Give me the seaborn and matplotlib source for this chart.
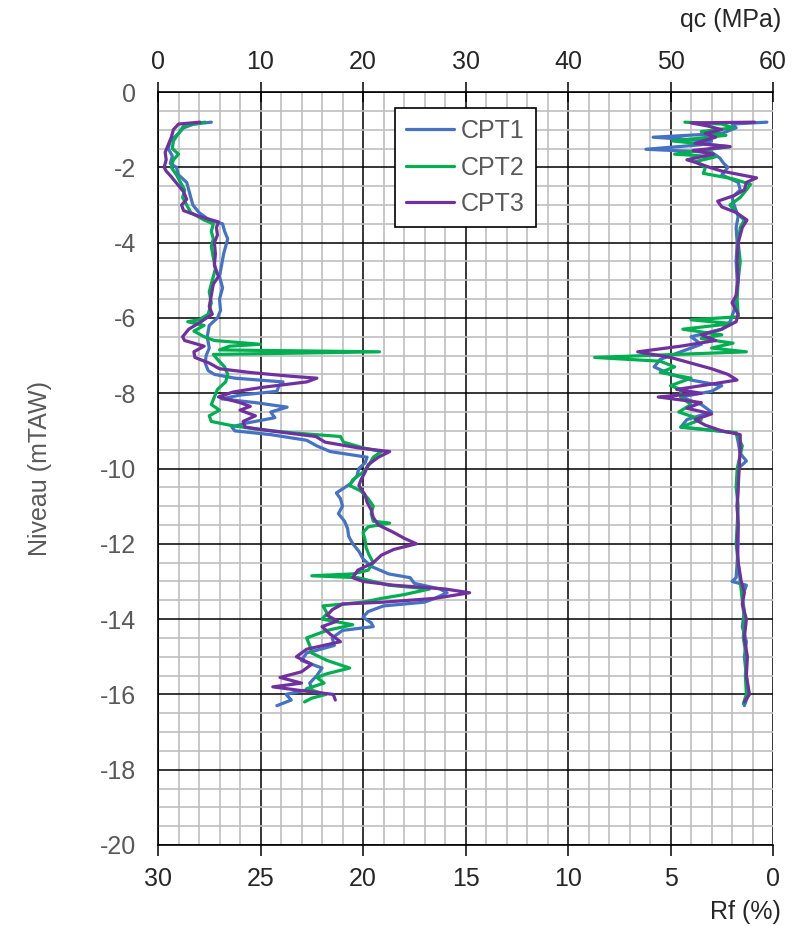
import numpy as np
import pandas as pd
import seaborn as sns
import matplotlib.pyplot as plt
from matplotlib.ticker import MultipleLocator

#====== data: qc (MPa) vs level (mTAW) ======
cpt1_qc_z = [-0.8, -0.85, -0.95, -1.1, -1.3, -1.5, -1.7, -1.9, -2.0, -2.2, -2.4, -2.6, -2.8, -3.0, -3.2, -3.4,
             -3.5, -3.7, -3.9, -4.1, -4.3, -4.6, -4.9, -5.2, -5.5, -5.8, -6.0, -6.2, -6.5, -6.8, -7.0, -7.2,
             -7.4, -7.5, -7.6, -7.7, -7.8, -7.95, -8.05, -8.15, -8.25, -8.37, -8.5, -8.65, -8.8, -8.9, -9.0,
             -9.1, -9.25, -9.4, -9.55, -9.7, -9.85, -10.0, -10.2, -10.4, -10.65, -10.8, -11.0, -11.2, -11.4,
             -11.6, -11.8, -12.0, -12.2, -12.4, -12.6, -12.8, -12.9, -13.05, -13.2, -13.3, -13.45, -13.55,
             -13.65, -13.8, -13.95, -14.1, -14.2, -14.3, -14.5, -14.7, -14.9, -15.1, -15.3, -15.5, -15.7,
             -15.85, -16.0, -16.15, -16.3]
cpt1_qc = [5.2, 3.5, 2.5, 2.0, 1.2, 1.0, 1.4, 1.2, 1.8, 2.0, 2.8, 3.0, 3.2, 3.4, 4.0, 5.0,
           6.3, 6.5, 6.8, 6.6, 6.4, 6.2, 6.0, 6.3, 6.0, 6.1, 5.8, 5.0, 4.8, 5.0, 4.7, 4.6,
           4.9, 5.5, 7.5, 12.2, 11.8, 11.6, 8.0, 6.2, 9.5, 12.6, 11.0, 11.4, 8.5, 7.2, 7.5,
           11.0, 14.5, 15.5, 16.8, 20.4, 20.2, 19.6, 19.4, 18.8, 17.4, 17.8, 18.0, 17.6, 18.2,
           18.5, 18.6, 19.0, 19.6, 20.0, 20.8, 22.5, 24.6, 25.0, 27.5, 28.2, 27.0, 26.0,
           22.0, 20.5, 20.0, 20.8, 21.0, 18.0, 17.0, 17.2, 14.5, 14.0, 16.0, 15.5, 14.8,
           15.0, 12.5, 13.0, 11.6]

cpt2_qc_z = [-0.8, -0.9, -1.1, -1.3, -1.5, -1.65, -1.8, -2.0, -2.2, -2.4, -2.6, -2.8, -3.0, -3.2, -3.4, -3.5,
             -3.7, -3.9, -4.1, -4.4, -4.7, -5.0, -5.3, -5.6, -5.9, -6.05, -6.1, -6.2, -6.35, -6.5, -6.6,
             -6.7, -6.75, -6.85, -6.9, -6.97, -7.1, -7.3, -7.5, -7.7, -7.9, -8.1, -8.3, -8.45, -8.6, -8.75,
             -8.85, -8.95, -9.05, -9.15, -9.3, -9.45, -9.55, -9.7, -9.9, -10.1, -10.3, -10.45, -10.6, -10.8,
             -11.0, -11.2, -11.4, -11.45, -11.55, -11.7, -11.9, -12.1, -12.3, -12.5, -12.7, -12.8, -12.85,
             -12.9, -13.0, -13.1, -13.2, -13.35, -13.45, -13.55, -13.65, -13.85, -14.0, -14.15, -14.3,
             -14.5, -14.7, -14.9, -15.1, -15.3, -15.45, -15.55, -15.7, -15.85, -16.0, -16.1, -16.2]
cpt2_qc = [4.6, 2.5, 2.0, 1.5, 1.4, 2.0, 1.5, 1.3, 1.8, 2.2, 2.6, 2.4, 2.8, 3.2, 4.5, 5.4,
           5.2, 5.4, 5.2, 5.4, 5.6, 5.3, 5.0, 5.2, 4.9, 4.0, 2.9, 4.5, 3.5, 4.5, 5.5,
           10.0, 7.0, 6.0, 21.6, 5.4, 5.8, 6.5, 6.8, 6.6, 5.8, 5.5, 5.2, 6.0, 5.0, 5.2,
           7.0, 9.5, 13.0, 17.8, 18.1, 20.0, 21.8, 21.0, 20.6, 20.0, 19.0, 18.7, 19.8, 20.5,
           21.0, 20.8, 21.0, 22.6, 20.5, 20.0, 20.2, 20.3, 20.6, 21.0, 20.5, 19.0, 15.0,
           19.5, 21.0, 22.5, 26.5, 24.0, 21.8, 20.0, 16.1, 16.5, 16.0, 19.0, 16.5,
           14.5, 14.8, 15.0, 16.5, 18.7, 16.5, 15.5, 16.2, 14.5, 16.4, 15.0, 14.3]

cpt3_qc_z = [-0.8, -0.85, -1.0, -1.2, -1.4, -1.6, -1.8, -2.0, -2.1, -2.25, -2.45, -2.65, -2.85, -3.0, -3.15,
             -3.3, -3.45, -3.6, -3.8, -4.0, -4.3, -4.6, -4.9, -5.1, -5.4, -5.7, -5.9, -6.1, -6.3, -6.5,
             -6.6, -6.75, -6.9, -7.05, -7.2, -7.35, -7.45, -7.55, -7.6, -7.7, -7.85, -7.97, -8.1, -8.25,
             -8.35, -8.45, -8.6, -8.75, -8.9, -9.0, -9.15, -9.3, -9.45, -9.55, -9.7, -9.9, -10.1, -10.3,
             -10.45, -10.7, -10.9, -11.1, -11.3, -11.5, -11.7, -11.85, -12.0, -12.15, -12.3, -12.5, -12.7,
             -12.9, -13.0, -13.1, -13.2, -13.3, -13.45, -13.55, -13.6, -13.75, -13.9, -14.05, -14.2, -14.4,
             -14.6, -14.8, -15.0, -15.2, -15.4, -15.55, -15.7, -15.8, -15.9, -16.0, -16.15]
cpt3_qc = [4.1, 2.0, 1.5, 1.3, 1.0, 0.7, 0.8, 0.6, 0.8, 1.3, 1.9, 2.5, 2.8, 2.3, 2.5,
           4.0, 5.9, 5.7, 5.8, 5.5, 5.6, 5.5, 5.9, 5.4, 5.2, 5.0, 5.3, 4.2, 3.0, 2.4,
           2.6, 4.5, 3.5, 3.6, 5.0, 6.0, 9.0, 13.0, 15.5, 14.5, 10.0, 7.3, 5.9, 8.0,
           9.0, 8.0, 9.5, 8.3, 8.5, 11.0, 15.4, 16.3, 19.5, 22.6, 21.5, 20.5, 20.2, 19.8,
           19.6, 20.2, 20.4, 20.8, 21.0, 21.5, 23.0, 24.0, 25.2, 23.0, 21.8, 21.0, 19.5,
           19.0, 20.0, 23.0, 28.0, 30.4, 27.0, 22.0, 18.0, 17.0, 16.5, 17.5, 16.0, 16.8,
           17.8, 14.5, 13.5, 15.0, 14.0, 11.9, 14.0, 11.2, 14.0, 17.1, 17.3]

#====== data: Rf (%) vs level (mTAW) ======
cpt1_rf_z = [-0.8, -0.85, -0.95, -1.1, -1.2, -1.3, -1.4, -1.52, -1.6, -1.75, -1.9, -2.0, -2.2, -2.4, -2.6,
             -2.8, -3.0, -3.3, -3.6, -4.0, -4.5, -5.0, -5.5, -5.8, -6.1, -6.3, -6.5, -6.7, -6.9, -7.1,
             -7.3, -7.5, -7.65, -7.8, -7.95, -8.1, -8.3, -8.5, -8.7, -8.9, -9.05, -9.3, -9.6, -9.8, -10.0,
             -10.5, -11.0, -11.5, -12.0, -12.5, -12.9, -13.0, -13.1, -13.4, -13.8, -14.2, -14.6, -15.0,
             -15.5, -16.0, -16.3]
cpt1_rf = [0.3, 2.0, 1.8, 2.5, 5.85, 3.0, 3.5, 6.2, 3.0, 2.6, 2.4, 2.2, 2.5, 1.7, 1.6,
           2.0, 1.9, 1.7, 1.8, 1.75, 1.8, 1.75, 1.8, 1.9, 2.1, 2.5, 4.0, 3.5, 4.5, 5.5,
           5.8, 5.0, 4.0, 2.5, 3.0, 4.5, 3.5, 3.0, 4.2, 4.5, 1.8, 1.7, 1.6, 1.3, 1.7,
           1.7, 1.75, 1.7, 1.7, 1.75, 1.8, 2.0, 1.3, 1.5, 1.4, 1.5, 1.3, 1.4,
           1.3, 1.2, 1.4]

cpt2_rf_z = [-0.8, -0.85, -0.95, -1.05, -1.15, -1.3, -1.45, -1.55, -1.65, -1.72, -1.85, -2.0, -2.16, -2.3,
             -2.45, -2.6, -2.8, -3.0, -3.2, -3.4, -3.6, -4.0, -4.5, -5.0, -5.5, -5.97, -6.05, -6.15, -6.3,
             -6.45, -6.55, -6.67, -6.8, -6.9, -7.05, -7.15, -7.3, -7.45, -7.6, -7.8, -7.9, -8.1, -8.3,
             -8.5, -8.7, -8.9, -9.05, -9.4, -10.0, -10.5, -11.0, -11.5, -12.0, -12.5, -13.0, -13.5,
             -14.0, -14.5, -15.0, -15.5, -16.0, -16.25]
cpt2_rf = [4.3, 2.5, 1.95, 3.5, 2.3, 4.9, 2.1, 3.5, 4.8, 2.8, 3.8, 3.3, 3.4, 2.0,
           1.1, 1.3, 1.6, 2.1, 1.8, 1.4, 1.6, 1.7, 1.6, 1.7, 1.75, 1.7, 4.0, 2.0, 4.4,
           2.5, 3.5, 1.95, 3.0, 1.3, 8.7, 5.5, 4.8, 5.5, 4.0, 5.0, 4.5, 4.5, 4.0,
           4.6, 3.5, 4.5, 1.8, 1.5, 1.75, 1.8, 1.7, 1.75, 1.8, 1.7, 1.6, 1.5,
           1.4, 1.45, 1.3, 1.35, 1.3, 1.45]

cpt3_rf_z = [-0.8, -0.82, -0.9, -1.0, -1.1, -1.2, -1.36, -1.45, -1.55, -1.65, -1.8, -1.9, -2.0, -2.1,
             -2.28, -2.4, -2.6, -2.75, -2.9, -3.05, -3.2, -3.4, -3.6, -4.0, -4.5, -5.0, -5.4, -5.6,
             -5.9, -6.1, -6.3, -6.45, -6.6, -6.75, -6.9, -7.05, -7.2, -7.35, -7.5, -7.65, -7.8, -7.9,
             -8.0, -8.1, -8.25, -8.4, -8.55, -8.7, -8.85, -9.0, -9.1, -9.4, -10.0, -10.5, -11.0, -11.5,
             -12.0, -12.5, -13.0, -13.3, -13.6, -14.0, -14.5, -15.0, -15.5, -16.0, -16.2]
cpt3_rf = [0.9, 4.0, 3.2, 2.5, 3.3, 2.8, 3.8, 2.1, 3.9, 2.9, 4.2, 3.6, 3.1, 2.5,
           0.8, 1.3, 1.4, 1.9, 2.7, 2.5, 1.8, 1.27, 1.5, 1.7, 1.75, 1.7, 1.8, 2.0,
           1.7, 1.8, 2.5, 3.5, 2.8, 4.5, 6.6, 5.0, 4.0, 3.0, 2.2, 1.76, 3.5, 4.7,
           3.5, 5.6, 3.5, 4.2, 3.0, 3.8, 3.3, 2.5, 1.6, 1.6, 1.65, 1.7, 1.75, 1.7,
           1.75, 1.7, 1.55, 1.4, 1.5, 1.3, 1.4, 1.25, 1.3, 1.15, 1.4]

names = ['CPT1', 'CPT2', 'CPT3']
colors = ['#4472C4', '#00B050', '#7030A0']

qc_series = [(cpt1_qc_z, cpt1_qc), (cpt2_qc_z, cpt2_qc), (cpt3_qc_z, cpt3_qc)]
rf_series = [(cpt1_rf_z, cpt1_rf), (cpt2_rf_z, cpt2_rf), (cpt3_rf_z, cpt3_rf)]

#====== style ======
sns.set_style('white')
plt.rcParams['font.family'] = ['Liberation Sans', 'DejaVu Sans']
plt.rcParams['axes.unicode_minus'] = False
txt = '#595959'
dark = '#262626'

fig = plt.figure(figsize=(8, 9.26), dpi=100)
ax = fig.add_axes([0.1975, 0.0875, 0.7688, 0.8131])  # Rf axis (bottom)

ax.set_xlim(30, 0)
ax.set_ylim(-20, 0)
ax.xaxis.set_major_locator(MultipleLocator(5))
ax.xaxis.set_minor_locator(MultipleLocator(1))
ax.yaxis.set_major_locator(MultipleLocator(2))
ax.yaxis.set_minor_locator(MultipleLocator(0.5))
ax.grid(which='minor', color='#BFBFBF', lw=1.2)
ax.grid(which='major', color='black', lw=1.1)
ax.set_axisbelow(True)
for s in ['top', 'right']:
    ax.spines[s].set_visible(False)
for s in ['left', 'bottom']:
    ax.spines[s].set_color('black')
    ax.spines[s].set_linewidth(1.2)
ax.tick_params(which='major', direction='out', length=8, width=1.1, color='black', labelsize=18)
ax.tick_params(axis='y', labelcolor=txt, pad=8)
ax.tick_params(axis='x', labelcolor=dark, pad=8)
ax.tick_params(which='minor', length=0)
ax.set_ylabel('Niveau (mTAW)', fontsize=18, color=txt, labelpad=34)
ax.set_xlabel('')

# Rf curves
for (z, rf), name, c in zip(rf_series, names, colors):
    sns.lineplot(x=rf, y=z, sort=False, estimator=None, color=c, lw=2.3, ax=ax, legend=False)

# qc axis on top
ax2 = ax.twiny()
ax2.set_xlim(0, 60)
ax2.set_ylim(-20, 0)
ax2.xaxis.set_major_locator(MultipleLocator(10))
for s in ['bottom', 'right', 'left']:
    ax2.spines[s].set_visible(False)
ax2.spines['top'].set_color('black')
ax2.spines['top'].set_linewidth(1.2)
ax2.tick_params(axis='x', which='major', direction='inout', length=14, width=1.1, color='black',
                labelsize=18, labelcolor=dark, pad=6)
ax2.grid(False)

for (z, qc), name, c in zip(qc_series, names, colors):
    sns.lineplot(x=qc, y=z, sort=False, estimator=None, color=c, lw=2.3, ax=ax2, label=name)

leg = ax2.legend(loc='upper left', bbox_to_anchor=(0.385, 0.979), frameon=True, fancybox=False,
                 edgecolor='black', framealpha=1, fontsize=18, handlelength=1.9,
                 labelspacing=0.5, borderpad=0.45, handletextpad=0.3, borderaxespad=0)
leg.get_frame().set_linewidth(1.2)
for t in leg.get_texts():
    t.set_color(txt)

fig.text(781 / 800, 1 - 20 / 926, 'qc (MPa)', fontsize=18, color=dark, ha='right', va='center')
fig.text(781 / 800, 1 - 912 / 926, 'Rf (%)', fontsize=18, color=dark, ha='right', va='center')

fig.savefig('out.png', dpi=100)
